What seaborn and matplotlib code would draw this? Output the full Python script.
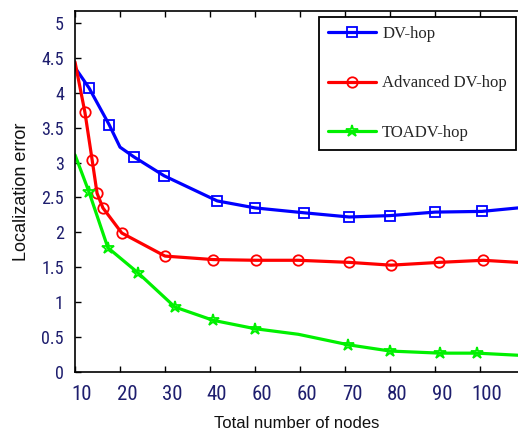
import matplotlib
matplotlib.use('Agg')
import matplotlib.pyplot as plt
import matplotlib.transforms as mtransforms
from matplotlib import font_manager
import seaborn as sns

# values
dv_x = [10, 13.1, 17.6, 20, 23.1, 29.8, 41.6, 50, 60.9, 70.9, 80, 90, 100.4, 108.4]
dv_y = [4.36, 4.07, 3.54, 3.22, 3.08, 2.81, 2.45, 2.35, 2.28, 2.22, 2.24, 2.29, 2.30, 2.35]
dv_marks = [1, 2, 4, 5, 6, 7, 8, 9, 10, 11, 12]

adv_x = [10, 12.2, 13.8, 14.9, 16.2, 20.4, 30, 40.7, 50.2, 59.6, 70.9, 80.2, 90.9, 100.7, 108.4]
adv_y = [4.44, 3.72, 3.04, 2.56, 2.35, 1.99, 1.66, 1.61, 1.60, 1.60, 1.57, 1.53, 1.57, 1.60, 1.57]
adv_marks = [1, 2, 3, 4, 5, 6, 7, 8, 9, 10, 11, 12, 13]

toa_x = [10, 13.1, 17.3, 24, 32.2, 40.7, 50, 59.6, 70.7, 80, 91.1, 99.3, 108.4]
toa_y = [3.11, 2.58, 1.78, 1.42, 0.93, 0.74, 0.62, 0.54, 0.39, 0.30, 0.27, 0.27, 0.24]
toa_marks = [1, 2, 3, 4, 5, 6, 8, 9, 10, 11]

x_ticks = [10, 20, 30, 40, 50, 60, 70, 80, 90, 100]
x_labels = ['10', '20', '30', '40', '60', '60', '70', '80', '90', '100']
y_ticks = [0, 0.5, 1, 1.5, 2, 2.5, 3, 3.5, 4, 4.5, 5]
y_labels = ['0', '0.5', '1', '1.5', '2', '2.5', '3', '3.5', '4', '4.5', '5']

sns.set_style('ticks')

# pick a narrow sans if one is there
installed = {f.name for f in font_manager.fontManager.ttflist}
narrow = None
for cand in ['Liberation Sans Narrow', 'DejaVu Sans Condensed', 'Roboto Condensed']:
    if cand in installed:
        narrow = cand
        break
if narrow is None:
    narrow = 'Liberation Sans'
    xt_size, yt_size = 13, 11
else:
    xt_size, yt_size = 15, 13

fig = plt.figure(figsize=(5.18, 4.37), dpi=100)
ax = fig.add_axes([75 / 518, 1 - 372 / 437, 1 - 75 / 518, (372 - 11) / 437])

series = [
    (dv_x, dv_y, dv_marks, 'DV-hop', '#0000ff', 's', 7.5),
    (adv_x, adv_y, adv_marks, 'Advanced DV-hop', '#ff0000', 'o', 7.5),
    (toa_x, toa_y, toa_marks, 'TOADV-hop', '#00f000', '*', 9),
]
for xs, ys, marks, name, col, mk, ms in series:
    sns.lineplot(x=xs, y=ys, ax=ax, color=col, lw=2.3, marker=mk, markevery=marks,
                 markersize=ms, markerfacecolor='none', markeredgecolor=col,
                 markeredgewidth=1.3, label=name, sort=False, estimator=None)

ax.set_xlim(10, 108.4)
ax.set_ylim(0, 5.17)
ax.set_xticks(x_ticks)
ax.set_xticklabels(x_labels, family=[narrow, 'DejaVu Sans'], fontsize=xt_size)
ax.set_yticks(y_ticks)
ax.set_yticklabels(y_labels, family=[narrow, 'DejaVu Sans'], fontsize=yt_size)
ax.tick_params(direction='in', length=4, width=1, top=True, right=False, colors='black')
ax.tick_params(axis='x', pad=9, labelcolor='#1e1e6e')
ax.tick_params(axis='y', pad=8, labelcolor='#1e1e6e')

# shift x tick labels a little to the right, as in the reference
shift = mtransforms.ScaledTranslation(7 / 100, 0, fig.dpi_scale_trans)
for lab in ax.get_xticklabels():
    lab.set_transform(lab.get_transform() + shift)

for side in ['left', 'bottom', 'top']:
    ax.spines[side].set_color('black')
    ax.spines[side].set_linewidth(1.2)
ax.spines['right'].set_visible(False)

ax.set_xlabel('Total number of nodes', family=['Liberation Sans', 'DejaVu Sans'],
              fontsize=12, color='#111111', labelpad=9)
ax.set_ylabel('Localization error', family=['Liberation Sans', 'DejaVu Sans'],
              fontsize=13, color='#111111', labelpad=8)

leg = ax.legend(loc='upper right', bbox_to_anchor=(516 / 518, 1 - 17 / 437),
                bbox_transform=fig.transFigure, borderaxespad=0,
                prop={'family': ['Liberation Serif', 'DejaVu Serif'], 'size': 12},
                frameon=True, fancybox=False, edgecolor='black', framealpha=1,
                labelspacing=2.0, handlelength=2.9, handletextpad=0.35,
                borderpad=0.55, numpoints=1)
leg.get_frame().set_linewidth(1.3)
leg.get_frame().set_facecolor('white')

fig.savefig('out.png', dpi=100)
